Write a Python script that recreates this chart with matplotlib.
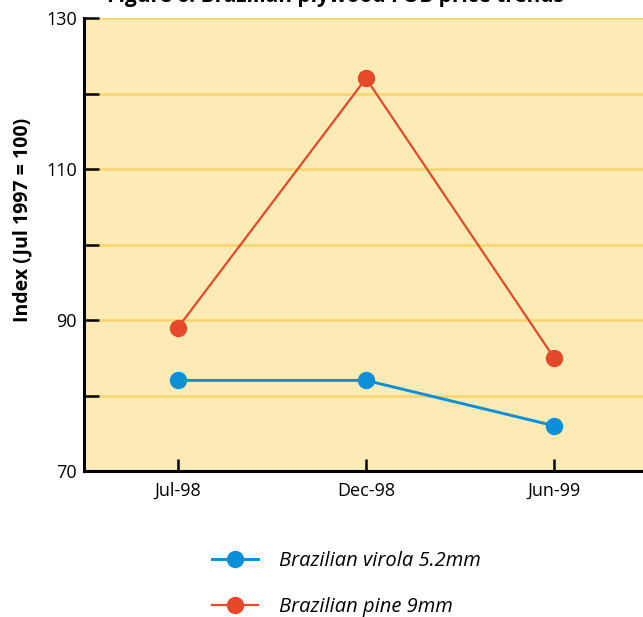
import matplotlib.pyplot as plt
from matplotlib.ticker import FixedLocator

plt.rcParams.update({
    'font.family': ['Open Sans', 'DejaVu Sans'],
    'font.size': 10,
})

periods = ['Jul-98', 'Dec-98', 'Jun-99']
virola = [82, 82, 76]
pine = [89, 122, 85]
major_y = [70, 90, 110, 130]
minor_y = [80, 100, 120]

BLUE = '#0A8FD8'
RED = '#E5492A'
BG = '#FDEBB6'
GRID = '#F8D56A'

fig = plt.figure(figsize=(6.43, 6.17), dpi=100)
ax = fig.add_axes([84 / 643, 146 / 617, 564 / 643, 453 / 617])
ax.set_facecolor(BG)

x = range(len(periods))
ax.plot(x, virola, color=BLUE, lw=2.1, marker='o', ms=11.5, zorder=3,
        label='Brazilian virola 5.2mm')
ax.plot(x, pine, color=RED, lw=1.6, marker='o', ms=11.5, zorder=3,
        label='Brazilian pine 9mm')

ax.set_xlim(-0.5, 2.5)
ax.set_ylim(70, 130)
ax.set_xticks(list(x))
ax.set_xticklabels(periods)
ax.yaxis.set_major_locator(FixedLocator(major_y))
ax.yaxis.set_minor_locator(FixedLocator(minor_y))
for v in major_y[1:] + minor_y:
    ax.axhline(v, color=GRID, lw=1.8, zorder=1)

ax.tick_params(axis='y', which='both', direction='in', length=11, width=1.8,
               labelsize=13, pad=5)
ax.tick_params(axis='x', direction='in', length=9, width=1.8, labelsize=13, pad=8)
for s in ['top', 'right']:
    ax.spines[s].set_visible(False)
for s in ['left', 'bottom']:
    ax.spines[s].set_linewidth(2.2)

fig.text(22 / 643, 1 - 220 / 617, 'Index (Jul 1997 = 100)', rotation=90,
         ha='center', va='center', fontsize=14, fontweight='bold')
fig.text(335 / 643, 1 - 2 / 617, 'Figure 6: Brazilian plywood FOB price trends',
         ha='center', va='baseline', fontsize=15, fontweight='bold')

leg = fig.legend(loc='upper left', bbox_to_anchor=(194 / 643, 1 - 533 / 617),
                 frameon=False, handlelength=2.3, labelspacing=1.3,
                 handletextpad=1.0, prop={'style': 'italic', 'size': 14.5})

fig.savefig('out.png', dpi=100)
